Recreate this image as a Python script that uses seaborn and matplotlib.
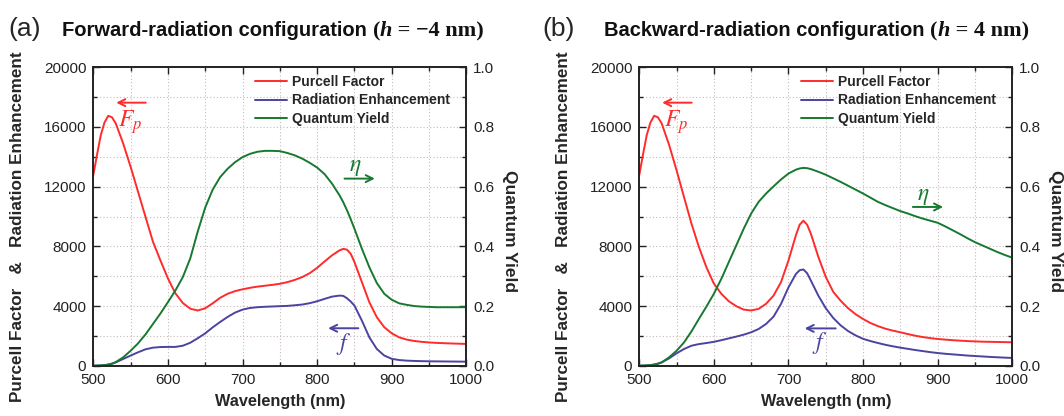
import numpy as np
import pandas as pd
import matplotlib
matplotlib.use("Agg")
import matplotlib.pyplot as plt
from matplotlib.ticker import MultipleLocator
import seaborn as sns

# ---- data ----
wl_a = [500, 505, 510, 515, 520, 525, 530, 540, 550, 560, 570, 580, 590, 600, 610, 620,
        630, 640, 650, 660, 670, 680, 690, 700, 710, 720, 730, 740, 750, 760, 770, 780,
        790, 800, 810, 820, 830, 835, 840, 845, 850, 860, 870, 880, 890, 900, 910, 920,
        930, 940, 950, 960, 970, 980, 990, 1000]
fp_a = [12770, 14150, 15450, 16300, 16750, 16650, 16250, 14900, 13330, 11650, 9970, 8300,
        7050, 5850, 4850, 4200, 3820, 3700, 3850, 4180, 4550, 4820, 5000, 5120, 5220, 5300,
        5360, 5420, 5490, 5600, 5750, 5940, 6200, 6560, 6990, 7400, 7730, 7830, 7780, 7500,
        6950, 5600, 4250, 3250, 2580, 2170, 1900, 1750, 1660, 1600, 1560, 1530, 1510, 1490,
        1475, 1460]
f_a = [0, 5, 15, 35, 70, 130, 220, 450, 680, 900, 1100, 1210, 1250, 1260, 1260, 1340,
       1540, 1840, 2170, 2570, 2930, 3270, 3560, 3760, 3870, 3920, 3950, 3970, 3990, 4010,
       4050, 4100, 4190, 4320, 4480, 4630, 4700, 4680, 4520, 4300, 4030, 3020, 1900, 1120,
       680, 460, 380, 340, 320, 305, 295, 290, 285, 280, 275, 270]
qy_a = [0.0, 0.0005, 0.001, 0.002, 0.004, 0.007, 0.012, 0.028, 0.05, 0.075, 0.105, 0.14,
        0.175, 0.213, 0.252, 0.297, 0.36, 0.45, 0.53, 0.59, 0.632, 0.66, 0.682, 0.699,
        0.71, 0.717, 0.72, 0.72, 0.719, 0.713, 0.705, 0.694, 0.68, 0.664, 0.642, 0.61,
        0.571, 0.548, 0.521, 0.491, 0.459, 0.392, 0.33, 0.277, 0.241, 0.221, 0.209, 0.204,
        0.2, 0.198, 0.197, 0.196, 0.196, 0.196, 0.196, 0.196]

wl_b = [500, 505, 510, 515, 520, 525, 530, 540, 550, 560, 570, 580, 590, 600, 610, 620,
        630, 640, 650, 660, 670, 680, 690, 700, 710, 715, 720, 725, 730, 740, 750, 760,
        770, 780, 790, 800, 810, 820, 830, 840, 850, 860, 870, 880, 890, 900, 910, 920,
        930, 940, 950, 960, 970, 980, 990, 1000]
fp_b = [12770, 14150, 15450, 16300, 16750, 16650, 16250, 14800, 13100, 11300, 9520, 7950,
        6600, 5500, 4820, 4320, 3990, 3760, 3700, 3810, 4150, 4700, 5600, 7050, 8750, 9450,
        9720, 9450, 8850, 7300, 5950, 4950, 4350, 3850, 3450, 3130, 2860, 2650, 2480, 2350,
        2240, 2120, 2010, 1920, 1850, 1790, 1750, 1710, 1680, 1650, 1630, 1610, 1600, 1590,
        1580, 1570]
f_b = [0, 5, 15, 35, 70, 130, 220, 490, 830, 1120, 1340, 1450, 1520, 1600, 1710, 1830,
       1950, 2080, 2240, 2460, 2800, 3290, 4140, 5250, 6150, 6400, 6450, 6200, 5710, 4700,
       3850, 3200, 2700, 2320, 2030, 1800, 1650, 1520, 1400, 1300, 1210, 1130, 1050, 980,
       910, 850, 800, 760, 720, 680, 650, 620, 590, 565, 540, 520]
qy_b = [0.0, 0.0005, 0.001, 0.002, 0.004, 0.007, 0.011, 0.028, 0.05, 0.078, 0.115, 0.157,
        0.198, 0.241, 0.291, 0.347, 0.403, 0.459, 0.51, 0.549, 0.577, 0.601, 0.624, 0.644,
        0.657, 0.661, 0.663, 0.662, 0.659, 0.65, 0.64, 0.628, 0.616, 0.603, 0.59, 0.577,
        0.563, 0.549, 0.538, 0.528, 0.518, 0.51, 0.501, 0.493, 0.486, 0.479, 0.467, 0.454,
        0.441, 0.427, 0.414, 0.403, 0.392, 0.381, 0.371, 0.362]

panels = ["(a)", "(b)"]
titles = ["Forward-radiation configuration ", "Backward-radiation configuration "]
h_text = [" = \u22124 nm)", " = 4 nm)"]
series_names = ["Purcell Factor", "Radiation Enhancement", "Quantum Yield"]

RED, BLUE, GREEN = "#FF2B2B", "#4B43A0", "#17792F"

sns.set_style("ticks")
plt.rcParams["font.family"] = ["Liberation Sans", "DejaVu Sans"]
plt.rcParams["mathtext.fontset"] = "stix"

fig = plt.figure(figsize=(10.64, 4.16), dpi=100)
ax_pos = [[0.0877, 0.1209, 0.3506, 0.7173], [0.6008, 0.1209, 0.3506, 0.7173]]

# annotation positions: (arrow start, arrow end, text position) per panel
fp_ann = [((574, 17630), (527, 17630), (549, 16300)), ((574, 17630), (527, 17630), (549, 16300))]
eta_ann = [((833, 0.627), (881, 0.627), (851, 0.665)), ((863, 0.532), (911, 0.532), (881, 0.57))]
f_ann = [((859, 2510), (811, 2510), (835, 1450)), ((767, 2500), (718, 2500), (742, 1500))]

datasets = [(wl_a, fp_a, f_a, qy_a), (wl_b, fp_b, f_b, qy_b)]

for i, (wl, fp, f, qy) in enumerate(datasets):
    df = pd.DataFrame({"wl": wl, "fp": fp, "f": f, "qy": qy})
    ax = fig.add_axes(ax_pos[i])
    ax2 = ax.twinx()
    sns.lineplot(data=df, x="wl", y="fp", color=RED, lw=1.4, ax=ax,
                 label=series_names[0], legend=False)
    sns.lineplot(data=df, x="wl", y="f", color=BLUE, lw=1.4, ax=ax,
                 label=series_names[1], legend=False)
    sns.lineplot(data=df, x="wl", y="qy", color=GREEN, lw=1.4, ax=ax2,
                 label=series_names[2], legend=False)

    ax.set_xlim(500, 1000)
    ax.set_ylim(0, 20000)
    ax2.set_ylim(0, 1.0)
    ax.xaxis.set_major_locator(MultipleLocator(100))
    ax.xaxis.set_minor_locator(MultipleLocator(50))
    ax.yaxis.set_major_locator(MultipleLocator(4000))
    ax.yaxis.set_minor_locator(MultipleLocator(2000))
    ax2.yaxis.set_major_locator(MultipleLocator(0.2))
    ax2.yaxis.set_minor_locator(MultipleLocator(0.1))
    ax2.yaxis.set_major_formatter(matplotlib.ticker.FormatStrFormatter("%.1f"))

    ax.grid(which="both", ls=(0, (1, 2)), color="#c9b9b9", lw=0.8)
    ax.tick_params(which="both", direction="in", top=True, right=False,
                   labelsize=11, width=1.0, colors="#222222", pad=5)
    ax.tick_params(which="major", length=5)
    ax.tick_params(which="minor", length=3)
    ax2.tick_params(which="both", direction="in", labelsize=11, width=1.0,
                    colors="#222222", pad=5)
    ax2.tick_params(which="major", length=5)
    ax2.tick_params(which="minor", length=3)
    for a in (ax, ax2):
        for s in a.spines.values():
            s.set_linewidth(1.2)
            s.set_color("#222222")

    ax.set_xlabel("Wavelength (nm)", fontsize=11.7, fontweight="bold")
    ax.xaxis.set_label_coords(0.5, -0.095)
    ax.set_ylabel("Purcell Factor   &   Radiation Enhancement", fontsize=12.3, fontweight="bold")
    ax.yaxis.set_label_coords(-0.183, 0.465)
    ax2.set_ylabel("Quantum Yield", fontsize=12.5, fontweight="bold", rotation=270, va="center")
    ax2.yaxis.set_label_coords(1.117, 0.45)

    h1, l1 = ax.get_legend_handles_labels()
    h2, l2 = ax2.get_legend_handles_labels()
    ax2.legend(h1 + h2, l1 + l2, loc="upper left", bbox_to_anchor=(0.4, 1.015),
               frameon=False, handlelength=2.3, handletextpad=0.35,
               labelspacing=0.3, prop={"weight": "bold", "size": 10})

    # arrows with labels
    for (start, end, tpos), col, txt, axx in [
            (fp_ann[i], RED, r"$F_p$", ax),
            (eta_ann[i], GREEN, r"$\eta$", ax2),
            (f_ann[i], BLUE, r"$f$", ax)]:
        axx.annotate("", xy=end, xytext=start,
                     arrowprops=dict(arrowstyle="->,head_length=0.5,head_width=0.25",
                                     color=col, lw=1.4))
        axx.text(tpos[0], tpos[1], txt, color=col, fontsize=17, ha="center", va="center")

# titles made of several pieces
fig.canvas.draw()
renderer = fig.canvas.get_renderer()
title_x = [[8, 62], [542, 604]]
base_y = 1 - 36 / 416
for i in range(2):
    fig.text(title_x[i][0] / 1064, base_y, panels[i], fontsize=19, va="baseline")
    x = title_x[i][1]
    pieces = [(titles[i], dict(family=["Liberation Sans"], weight="bold", size=14.5)),
              ("(", dict(family=["Liberation Serif"], weight="bold", size=16)),
              ("h", dict(family=["Liberation Serif"], weight="bold", style="italic", size=16)),
              (h_text[i], dict(family=["Liberation Serif"], weight="bold", size=16))]
    for txt, kw in pieces:
        t = fig.text(x / 1064, base_y, txt, va="baseline", color="#111111", **kw)
        bb = t.get_window_extent(renderer=renderer)
        x += bb.width

fig.savefig("out.png", dpi=100)
